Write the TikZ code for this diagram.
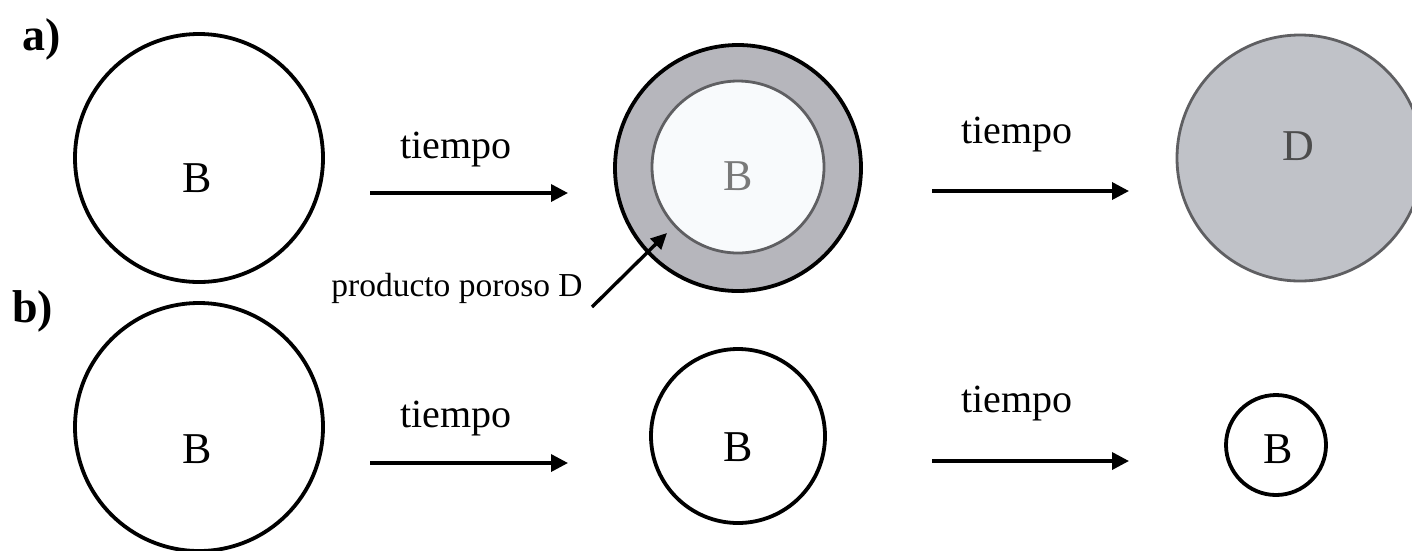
\documentclass[tikz,border=0pt]{standalone}
\usepackage{fontspec}
\setmainfont{Liberation Serif}
\usetikzlibrary{arrows.meta}
\definecolor{ringgray}{RGB}{182,182,188}
\definecolor{dgray}{RGB}{192,194,200}
\definecolor{innerfill}{RGB}{248,250,252}
\definecolor{edgegray}{RGB}{95,95,98}
\tikzset{
  ball/.style={circle, draw=black, line width=3.8pt, inner sep=0pt, fill=white},
  lbl/.style={anchor=base, font=\fontsize{44}{48}\selectfont, inner sep=0pt},
  tlbl/.style={anchor=base, font=\fontsize{40}{44}\selectfont, inner sep=0pt},
  tarrow/.style={line width=3.5pt, -{Triangle[length=17pt,width=17pt]}},
  partlbl/.style={anchor=base west, font=\bfseries\fontsize{46}{50}\selectfont, inner sep=0pt}
}
\begin{document}
\begin{tikzpicture}[x=1pt,y=-1pt]
\useasboundingbox (0,0) rectangle (1412,550);
\clip (0,0) rectangle (1412,550);
% part labels
\node[partlbl] (pa) at (22,50) {a)};
\node[partlbl] (pb) at (12,322) {b)};
% row a
\node[ball, minimum size=248pt] (a1) at (199,158) {};
\node[lbl] (a1t) at (197,192) {B};
\node[ball, minimum size=246pt, fill=ringgray] (a2) at (738,168) {};
\node[circle, draw=edgegray, line width=2.8pt, fill=innerfill, inner sep=0pt, minimum size=172pt] (a2i) at (738,167) {};
\node[lbl, text=gray!95!black] (a2t) at (738,190) {B};
\node[circle, draw=edgegray, line width=2.8pt, fill=dgray, inner sep=0pt, minimum size=246pt] (a3) at (1300,158) {};
\node[lbl, text=black!70] (a3t) at (1298,160) {D};
% arrows row a
\coordinate (a12s) at (370,193);
\coordinate (a12e) at (568,193);
\draw[tarrow] (a12s) -- (a12e);
\node[tlbl] (ta1) at (456,158) {tiempo};
\coordinate (a23s) at (932,191);
\coordinate (a23e) at (1129,191);
\draw[tarrow] (a23s) -- (a23e);
\node[tlbl] (ta2) at (1017,143) {tiempo};
% producto poroso D
\node[anchor=base, font=\fontsize{33.5}{36}\selectfont, inner sep=0pt] (pp) at (457,296) {producto poroso D};
\coordinate (pps) at (592,307);
\coordinate (ppe) at (667,233);
\draw[line width=3.4pt, -{Triangle[length=16pt,width=15pt]}] (pps) -- (ppe);
% row b
\node[ball, minimum size=248pt] (b1) at (199,427) {};
\node[lbl] (b1t) at (197,463) {B};
\node[ball, minimum size=174pt] (b2) at (738,436) {};
\node[lbl] (b2t) at (738,461) {B};
\node[ball, minimum size=100pt] (b3) at (1276,445) {};
\node[lbl] (b3t) at (1278,463) {B};
% arrows row b
\coordinate (b12s) at (370,463);
\coordinate (b12e) at (568,463);
\draw[tarrow] (b12s) -- (b12e);
\node[tlbl] (tb1) at (456,427) {tiempo};
\coordinate (b23s) at (932,461);
\coordinate (b23e) at (1129,461);
\draw[tarrow] (b23s) -- (b23e);
\node[tlbl] (tb2) at (1017,412) {tiempo};
\end{tikzpicture}
\end{document}
